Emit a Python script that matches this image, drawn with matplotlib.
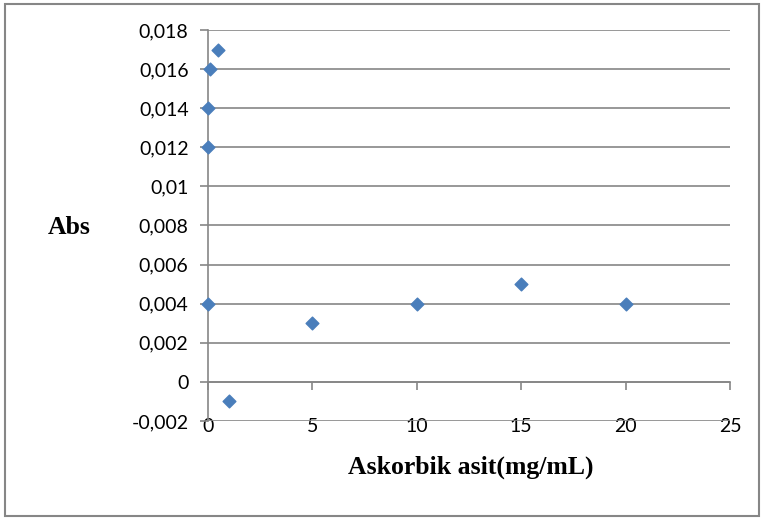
import matplotlib
matplotlib.use("Agg")
from matplotlib import pyplot as plt
from matplotlib.patches import Rectangle
import numpy as np

conc = [0, 0, 0, 0.1, 0.5, 1, 5, 10, 15, 20]
absorb = [0.004, 0.012, 0.014, 0.016, 0.017, -0.001, 0.003, 0.004, 0.005, 0.004]
xticks = [0, 5, 10, 15, 20, 25]
yticks = [-0.002, 0, 0.002, 0.004, 0.006, 0.008, 0.01, 0.012, 0.014, 0.016, 0.018]
ylabels = ["-0,002", "0", "0,002", "0,004", "0,006", "0,008", "0,01",
           "0,012", "0,014", "0,016", "0,018"]

grey = "#868686"
W, H = 763, 519
fig = plt.figure(figsize=(W / 100, H / 100), dpi=100)
fig.patches.append(Rectangle((5 / W, 3 / H), 754 / W, 512 / H, transform=fig.transFigure,
                             fill=False, edgecolor=grey, lw=1.5))

ax = fig.add_axes([208 / W, 1 - 421 / H, 522 / W, 391 / H])
ax.scatter(conc, absorb, marker="D", s=42, color="#4a7ebb", zorder=3, clip_on=False)

ax.set_xlim(0, 25)
ax.set_ylim(-0.002, 0.018)
ax.set_xticks(xticks)
ax.set_yticks(yticks)
ax.set_yticklabels(ylabels)

ax.grid(axis="y", color=grey, lw=1.2)
ax.set_axisbelow(True)
for s in ["top", "right"]:
    ax.spines[s].set_visible(False)
ax.spines["bottom"].set_position(("data", 0))
ax.spines["bottom"].set_color(grey)
ax.spines["left"].set_color(grey)
ax.spines["bottom"].set_linewidth(1.2)
ax.spines["left"].set_linewidth(1.2)

ax.tick_params(axis="y", direction="out", length=6, width=1.2, color=grey, pad=8,
               labelsize=14)
ax.tick_params(axis="x", direction="out", length=6, width=1.2, color=grey, pad=20,
               labelsize=14)
for lab in ax.get_xticklabels() + ax.get_yticklabels():
    lab.set_fontfamily("Lato")

fig.text(69 / W, 1 - 228 / H, "Abs", ha="center", va="center",
         fontfamily="Liberation Serif", fontweight="bold", fontsize=18.5)
fig.text(471 / W, 1 - 467 / H, "Askorbik asit(mg/mL)", ha="center", va="center",
         fontfamily="Liberation Serif", fontweight="bold", fontsize=18.5)

fig.savefig("out.png", dpi=100)
